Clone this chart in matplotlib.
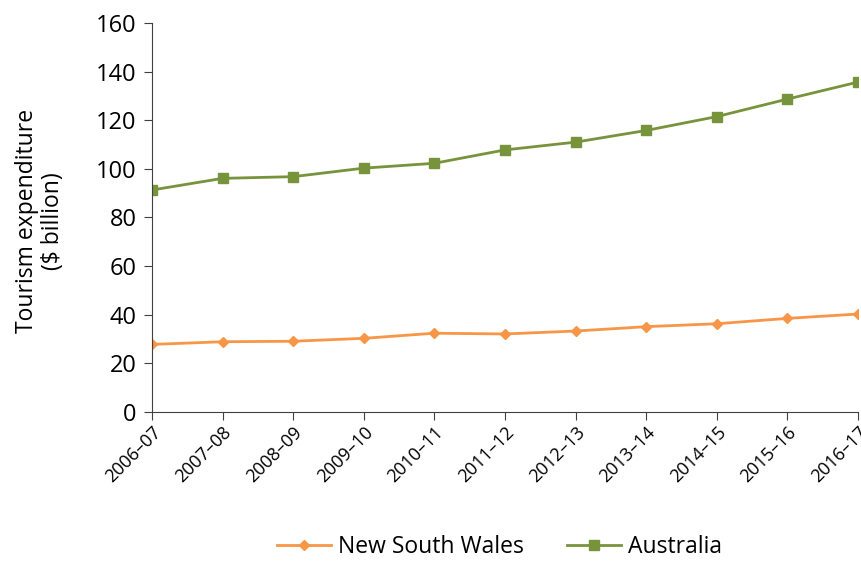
import matplotlib.pyplot as plt
import numpy as np

plt.rcParams['font.family'] = ['Open Sans', 'DejaVu Sans']

years = ["2006\u201307", "2007\u201308", "2008\u201309", "2009\u201310", "2010\u201311",
         "2011\u201312", "2012\u201313", "2013\u201314", "2014\u201315", "2015\u201316",
         "2016\u201317"]
nsw = [27.8, 28.9, 29.1, 30.3, 32.4, 32.1, 33.3, 35.1, 36.3, 38.5, 40.3]
australia = [91.3, 96.1, 96.8, 100.3, 102.3, 107.8, 111.0, 115.8, 121.5, 128.7, 135.7]

fig = plt.figure(figsize=(8.61, 5.61), dpi=100)
ax = fig.add_axes([0.1765, 0.2656, 0.82, 0.6934])

x = np.arange(len(years))
ax.plot(x, nsw, color='#F79646', linewidth=2, marker='D', markersize=5,
        label='New South Wales')
ax.plot(x, australia, color='#77933C', linewidth=2, marker='s', markersize=7,
        label='Australia')

ax.set_xlim(0, len(years) - 1)
ax.set_ylim(0, 160)
ax.set_yticks(range(0, 161, 20))
ax.set_xticks(x)
ax.set_xticklabels(years, rotation=45, ha='right', rotation_mode='anchor', fontsize=13)
ax.tick_params(axis='y', labelsize=17, length=6, color='#404040', pad=5)
ax.tick_params(axis='x', length=6, color='#404040', pad=2)

for s in ['top', 'right']:
    ax.spines[s].set_visible(False)
for s in ['left', 'bottom']:
    ax.spines[s].set_color('#404040')

ax.set_ylabel('Tourism expenditure\n($ billion)', fontsize=16.5, linespacing=1.1)
ax.yaxis.set_label_coords(-0.123, 0.49)

fig.legend(loc='center', bbox_to_anchor=(0.58, 0.025), ncol=2, frameon=False,
           fontsize=16.5, handlelength=2.35, handletextpad=0.3, columnspacing=1.9)

fig.savefig('out.png', dpi=100)
